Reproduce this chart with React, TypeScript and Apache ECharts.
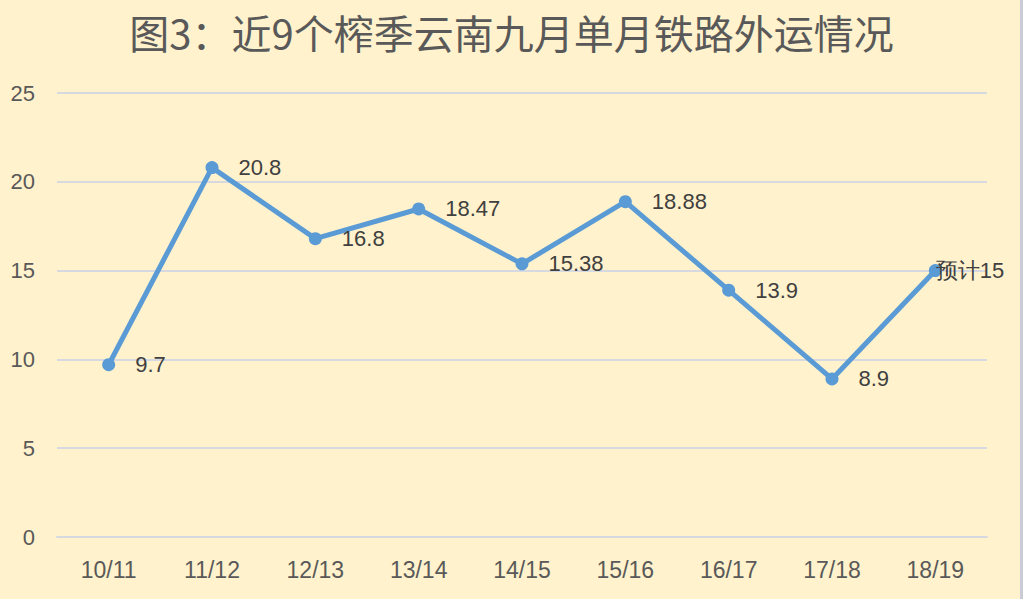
import React, { useEffect, useRef } from "react";
import * as echarts from "echarts";

const categories = ["10/11", "11/12", "12/13", "13/14", "14/15", "15/16", "16/17", "17/18", "18/19"];
const values = [9.7, 20.8, 16.8, 18.47, 15.38, 18.88, 13.9, 8.9, 15];
const labelTexts = ["9.7", "20.8", "16.8", "18.47", "15.38", "18.88", "13.9", "8.9", "预计15"];
const titleText = "图3：近9个榨季云南九月单月铁路外运情况";

export default function App() {
  const ref = useRef<HTMLDivElement>(null);
  useEffect(() => {
    document.body.style.margin = "0";
    const chart = echarts.init(ref.current!, null, { renderer: "svg" });
    const font = "'Liberation Sans', Arial, sans-serif";
    chart.setOption({
      animation: false,
      backgroundColor: "#FFF2CC",
      title: {
        text: titleText,
        left: "center",
        top: 7,
        textStyle: {
          fontFamily: "'Noto Sans CJK SC', sans-serif",
          fontSize: 40,
          fontWeight: "normal",
          color: "#595959",
        },
      },
      graphic: [
        { type: "rect", right: 0, top: 0, shape: { width: 3, height: 599 }, style: { fill: "#C9CBD6" } },
      ],
      grid: { left: 57, right: 36, top: 93, bottom: 62 },
      xAxis: {
        type: "category",
        data: categories,
        boundaryGap: true,
        axisLine: { show: true, lineStyle: { color: "#D6D9E0", width: 2 } },
        axisTick: { show: false },
        axisLabel: { color: "#595959", fontSize: 23, fontFamily: font, margin: 21 },
      },
      yAxis: {
        type: "value",
        min: 0,
        max: 25,
        interval: 5,
        axisLine: { show: false },
        axisTick: { show: false },
        axisLabel: { color: "#595959", fontSize: 22, fontFamily: font, margin: 22 },
        splitLine: { lineStyle: { color: "#D6D9E0", width: 2 } },
      },
      series: [
        {
          type: "line",
          data: values.map((v, i) => ({
            value: v,
            label:
              i === values.length - 1
                ? { formatter: labelTexts[i], offset: [-26, 0] }
                : { formatter: labelTexts[i] },
          })),
          symbol: "circle",
          symbolSize: 13,
          lineStyle: { color: "#5B9BD5", width: 5 },
          itemStyle: { color: "#5B9BD5" },
          label: {
            show: true,
            position: "right",
            distance: 20,
            color: "#404040",
            fontSize: 22,
            fontFamily: font,
          },
        },
      ],
    });
    return () => chart.dispose();
  }, []);
  return <div ref={ref} style={{ position: "absolute", left: 0, top: 0, width: 1023, height: 599 }} />;
}
